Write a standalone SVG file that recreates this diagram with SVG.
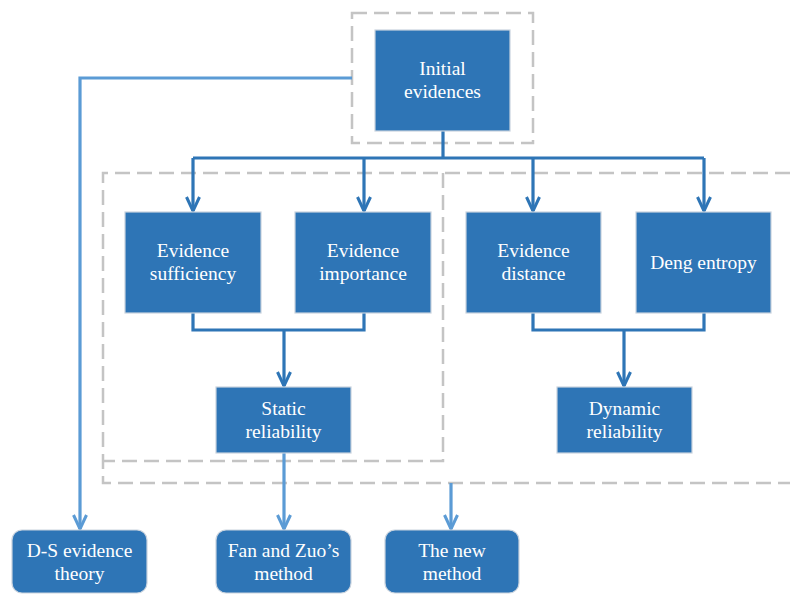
<svg xmlns="http://www.w3.org/2000/svg" width="790" height="595" viewBox="0 0 790 595">
<style>
.box{fill:#2E75B6;stroke:#C9D3DE;stroke-width:1.2}
.t{font-family:"Liberation Serif","Times New Roman",serif;font-size:19.5px;fill:#fff;text-anchor:middle}
.dash{fill:none;stroke:#C4C4C4;stroke-width:2.5;stroke-dasharray:15,7}
.c1{fill:none;stroke:#2E75B6;stroke-width:3.2}
.c2{fill:none;stroke:#5B9BD5;stroke-width:3.2}
</style>
<defs>
<marker id="a1" viewBox="0 0 18 18" refX="16" refY="9" markerWidth="18" markerHeight="18" markerUnits="userSpaceOnUse" orient="auto">
<path d="M2,2.5 L16,9 L2,15.5" fill="none" stroke="#2E75B6" stroke-width="3"/>
</marker>
<marker id="a2" viewBox="0 0 18 18" refX="16" refY="9" markerWidth="18" markerHeight="18" markerUnits="userSpaceOnUse" orient="auto">
<path d="M2,2.5 L16,9 L2,15.5" fill="none" stroke="#5B9BD5" stroke-width="3"/>
</marker>
</defs>
<g id="frames">
<rect class="dash" x="352" y="13" width="181" height="130"/>
<path class="dash" d="M790,173 H103 V483 H790"/>
<path class="dash" d="M443,173 V461 H103"/>
</g>
<g id="connectors">
<path class="c1" d="M443,131 V158"/>
<path class="c1" d="M193,158 H704"/>
<path class="c1" d="M193,158 V211" marker-end="url(#a1)"/>
<path class="c1" d="M364,158 V211" marker-end="url(#a1)"/>
<path class="c1" d="M533,158 V211" marker-end="url(#a1)"/>
<path class="c1" d="M704,158 V211" marker-end="url(#a1)"/>
<path class="c1" d="M193,313 V330 H364 V313"/>
<path class="c1" d="M284,330 V386" marker-end="url(#a1)"/>
<path class="c1" d="M533,313 V330 H704 V313"/>
<path class="c1" d="M624,330 V386" marker-end="url(#a1)"/>
<path class="c2" d="M352,78 H80 V529" marker-end="url(#a2)"/>
<path class="c2" d="M284,453 V529" marker-end="url(#a2)"/>
<path class="c2" d="M451,483 V529" marker-end="url(#a2)"/>
</g>
<g id="initial">
<rect class="box" x="375" y="30" width="135" height="101"/>
<text class="t" x="442.5" y="75">Initial</text>
<text class="t" x="442.5" y="98">evidences</text>
</g>
<g id="sufficiency">
<rect class="box" x="125" y="212" width="136" height="101"/>
<text class="t" x="193" y="257">Evidence</text>
<text class="t" x="193" y="280">sufficiency</text>
</g>
<g id="importance">
<rect class="box" x="295" y="212" width="136" height="101"/>
<text class="t" x="363" y="257">Evidence</text>
<text class="t" x="363" y="280">importance</text>
</g>
<g id="distance">
<rect class="box" x="466" y="212" width="135" height="101"/>
<text class="t" x="533.5" y="257">Evidence</text>
<text class="t" x="533.5" y="280">distance</text>
</g>
<g id="deng">
<rect class="box" x="636" y="212" width="135" height="101"/>
<text class="t" x="703.5" y="269">Deng entropy</text>
</g>
<g id="static">
<rect class="box" x="216" y="387" width="135" height="66"/>
<text class="t" x="283.5" y="415">Static</text>
<text class="t" x="283.5" y="438">reliability</text>
</g>
<g id="dynamic">
<rect class="box" x="557" y="387" width="135" height="66"/>
<text class="t" x="624.5" y="415">Dynamic</text>
<text class="t" x="624.5" y="438">reliability</text>
</g>
<g id="ds">
<rect class="box" x="12" y="530" width="135" height="63" rx="10"/>
<text class="t" x="79.5" y="557">D-S evidence</text>
<text class="t" x="79.5" y="580">theory</text>
</g>
<g id="fanzuo">
<rect class="box" x="216" y="530" width="135" height="63" rx="10"/>
<text class="t" x="283.5" y="557">Fan and Zuo’s</text>
<text class="t" x="283.5" y="580">method</text>
</g>
<g id="newmethod">
<rect class="box" x="385" y="530" width="134" height="63" rx="10"/>
<text class="t" x="452" y="557">The new</text>
<text class="t" x="452" y="580">method</text>
</g>
</svg>
